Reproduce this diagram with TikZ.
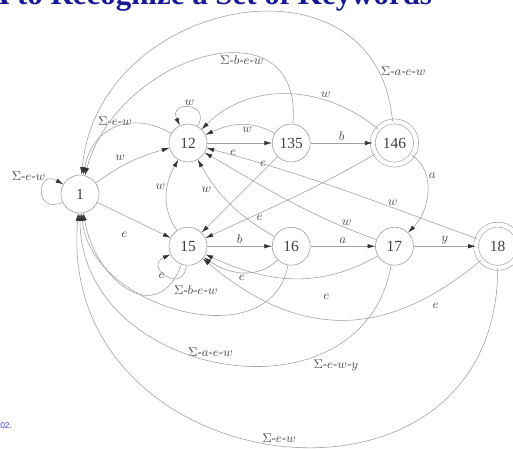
\documentclass[tikz,border=0pt]{standalone}
\usepackage{fontspec}
\setmainfont{Liberation Serif}
\newfontfamily\notefont{Liberation Sans}
\usetikzlibrary{arrows.meta,positioning}

\definecolor{titleblue}{RGB}{25,25,150}
\definecolor{noteblue}{RGB}{60,60,255}

\begin{document}
\begin{tikzpicture}[x=0.025cm,y=0.025cm,
		node distance=2.58cm, on grid,
		state/.style={
			circle, draw=black!40, minimum size=0.95cm, inner sep=0pt,
			font=\fontsize{11}{12}\selectfont, text=black!75
		},
		final/.style={
			state, double, double distance=0.11cm, minimum size=1.08cm
		},
		edge/.style={draw=black!38, -{Latex[length=1.9mm,width=1.1mm,color=black!80]}},
		lab/.style={font=\small, text=black!70, inner sep=1.5pt}
		]
		\useasboundingbox (0,0) rectangle (513,-448);
		
		% title, cut off by the page
		\node[anchor=base east, text=titleblue, font=\bfseries\fontsize{22}{24}\selectfont] (title) at (437,-4) {DFA to Recognize a Set of Keywords};
		\node[anchor=base west, text=noteblue, font=\notefont\fontsize{6}{7}\selectfont, inner sep=0pt] (note) at (0,-428) {02.};
		
		% states
		\node[state] (n1) at (80,-194) {1};
		\node[state] (n12) at (188,-143) {12};
		\node[state, right=of n12] (n135) {135};
		\node[final, right=of n135] (n146) {146};
		\node[state, below=of n12] (n15) {15};
		\node[state, right=of n15] (n16) {16};
		\node[state, right=of n16] (n17) {17};
		\node[final, right=of n17] (n18) {18};
		
		% from 1
		\draw[edge] (n1) to[out=205,in=150,looseness=4.5] node[lab,above left,pos=0.75] {$\Sigma$-$e$-$w$} (n1);
		\draw[edge] (n1) to[bend left=10] node[lab,above left,pos=0.45] {$w$} (n12);
		\draw[edge] (n1) -- node[lab,below,yshift=-10pt,pos=0.37] {$e$} (n15);
		
		% from 12
		\draw[edge] (n12) to[out=60,in=115,looseness=4] node[lab,above] {$w$} (n12);
		\draw[edge] (n12) to[out=150,in=80,looseness=1.25] node[lab,above] {$\Sigma$-$e$-$w$} (n1);
		\draw[edge] (n12) -- node[lab,below=3pt,pos=0.4] {$e$} (n135);
		
		% from 135
		\draw[edge] (n135) to[out=150,in=25] node[lab,below,pos=0.4] {$w$} (n12);
		\draw[edge] (n135) -- node[lab,above] {$b$} (n146);
		\draw[edge] (n135) to node[lab,pos=0.1,left=1pt] {$e$} (n15);
		\draw[edge] (n135) to[out=85,in=75,looseness=1.5] node[lab,pos=0.37,below] {$\Sigma$-$b$-$e$-$w$} (n1);
		
		% from 146
		\draw[edge] (n146) to[out=140,in=45] node[lab,above,pos=0.3] {$w$} (n12);
		\draw[edge] (n146) to[out=-35,in=45] node[lab,right,pos=0.3] {$a$} (n17);
		\draw[edge] (n146) to[out=210,in=25] node[lab,below,pos=0.7] {$e$} (n15);
		\draw[edge] (n146) to[out=95,in=85,looseness=1.45] node[lab,right,pos=0.11] {$\Sigma$-$a$-$e$-$w$} (n1);
		
		% from 15
		\draw[edge] (n15) to[out=-95,in=205,looseness=4] node[lab,left] {$e$} (n15);
		\draw[edge] (n15) to[out=125,in=240] node[lab,left,pos=0.62] {$w$} (n12);
		\draw[edge] (n15) -- node[lab,above] {$b$} (n16);
		\draw[edge] (n15) to[out=-110,in=-80,looseness=1.6] node[lab,right=6pt,pos=0.2] {$\Sigma$-$b$-$e$-$w$} (n1);
		
		% from 16
		\draw[edge] (n16) to[out=150,in=-60] node[lab,left=3pt,pos=0.68] {$w$} (n12);
		\draw[edge] (n16) -- node[lab,above] {$a$} (n17);
		\draw[edge] (n16) to[out=-135,in=-35] node[lab,below] {$e$} (n15);
		\draw[edge] (n16) to[out=-100,in=-85,looseness=1.15] node[lab,below,yshift=-22pt,pos=0.4] {$\Sigma$-$a$-$e$-$w$} (n1);
		
		% from 17
		\draw[edge] (n17) to[out=160,in=-30] node[lab,above,pos=0.15] {$w$} (n12);
		\draw[edge] (n17) -- node[lab,above] {$y$} (n18);
		\draw[edge] (n17) to[out=-150,in=-25] node[lab,below=4mm,pos=0.3] {$e$} (n15);
		\draw[edge] (n17) to[out=-100,in=-90,looseness=1.35] node[lab,below right,pos=0.3] {$\Sigma$-$e$-$w$-$y$} (n1);
		
		% from 18
		\draw[edge] (n18) to[out=160,in=-15] node[lab,above,pos=0.3] {$w$} (n12);
		\draw[edge] (n18) to[out=-140,in=-40,looseness=1.15] node[lab,below,yshift=-6pt,pos=0.16] {$e$} (n15);
		\draw[edge] (n18) to[out=-90,in=-95,looseness=1.65] node[lab,above] {$\Sigma$-$e$-$w$} (n1);
\end{tikzpicture}
\end{document}
